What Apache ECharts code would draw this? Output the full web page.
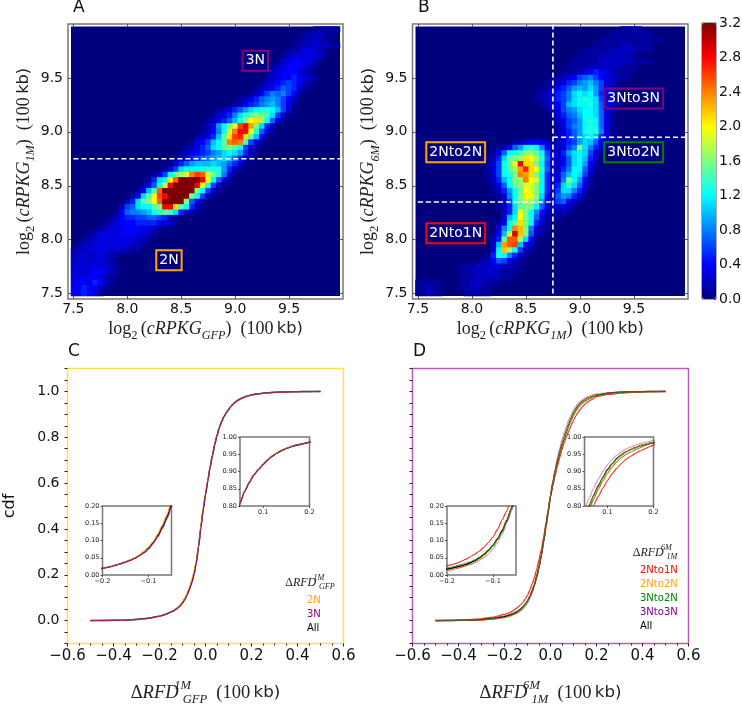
<!DOCTYPE html>
<html><head><meta charset="utf-8">
<style>html,body{margin:0;padding:0;background:#fff}#c{width:742px;height:704px}</style>
<script src="https://cdn.jsdelivr.net/npm/echarts@6/dist/echarts.min.js"></script>
</head><body><div id="c"></div>
<script>
// Heat cells: each row, top to bottom, is "firstColumn:values"; one base-36 digit per cell = density x 10.
const heatRowsA = [
"44:011111","42:0112211","41:0112221","40:0112232211","39:011233221",
"39:12333332","38:12344331","37:123444321","36:123444321","36:1234454321",
"35:1234565421","34:1234576531","33:1246878641","31:12357898642","30:1245689a8631",
"27:123579bcddca63","26:12358bdfggeb62","25:12357adgklhc731","24:1249cgjqsngb52","24:1248cjosskd731",
"23:1235aflqrlfa41","22:1346acfopoe631","21:12357bcfgfc621","20:12345689bcb9521","19:12356789aba8521",
"18:13579aaaba9752","17:136bcccdddd9521","15:136cghjoqpigd831","14:15bcjpwwwwskc731","13:147ciswwwwskd621",
"12:14aepwwwwwwgc621","11:14bfkqswwwwgc621","10:25bfgkpwwwwg731","09:267bccfgsslfc521","08:147889acefeb521",
"07:1245566776521","06:12344455554321","05:123334443321","03:1233334443321","02:1223333333221",
"01:1223333333221","00:1223333232211","00:223223221","00:23223321","00:233333321",
"00:332344321","00:33344321","00:34435421","00:4454421","00:445431"];
const heatRowsB = [
"38:1111","36:11111111","34:111111111111","33:11111221111","31:1111122222111",
"30:11112222221","29:111112222221111","28:1111222222111","27:1112345432111","25:112346786432211",
"24:11235689a86321","23:1124579a9b96321","22:1123568bcbc9532","22:1123568bcdcb6321","23:12346abccdb7421",
"24:123689bccb732","25:13578accb731","25:124679cdc731","26:23689cdc731","26:23579cdd831",
"26:23579bca531","18:1234432123569ba731","15:12479cdc8422368gb8521","14:137cdeghfc63259bcb631","13:125bfghlkhd73247bca52",
"13:136cfksllgc62247bc941","13:136cfhnrlkd72258cc731","13:126cdgonlgc5237acb62","13:125acghokjc5238gc941","14:137cfgjjgc525bdb731",
"14:1259cgkjgc526bb852","15:138cgkkgb42798531","16:26cgihf94267421","15:125bfggc7323321","16:25bkgc8421121",
"16:3ackgc73111","15:14cflgc521","15:38comg8311","14:14ajtmg721","14:25fpphb41",
"14:2anpqa42","14:3cmhc621","13:15dc8521","12:12476321","08:111222332211",
"08:11222322111","08:1112222211","00:1111000011222111","00:11211000112211","00:11211000011111"];

const heatTicks = [7.5, 8, 8.5, 9, 9.5];
const colorTicksMax = 3.2;
const jet = ['#00007f','#0000ff','#007fff','#00ffff','#7fff7f','#ffff00','#ff7f00','#ff0000','#7f0000'];

const boxNamesA = ['3N','2N'];
const boxXA = [9.187, 8.386];
const boxYA = [9.66, 7.81];
const boxColorsA = ['#800080','#ffa500'];
const boxNamesB = ['2Nto2N','2Nto1N','3Nto3N','3Nto2N'];
const boxXB = [7.85, 7.85, 9.497, 9.497];
const boxYB = [8.81, 8.06, 9.31, 8.81];
const boxColorsB = ['#ffa500','#ff0000','#800080','#008000'];
const dashA = [[[7.5,8.75],[10,8.75]]];
const dashB = [[[8.75,7.5],[8.75,10]],[[7.5,8.35],[8.75,8.35]],[[8.75,8.95],[10,8.95]]];

// CDF curves
const cdfX = [-0.5,-0.45,-0.4,-0.35,-0.3,-0.25,
-0.2,-0.19,-0.18,-0.17,-0.16,-0.15,-0.14,-0.13,-0.12,-0.11,
-0.1,-0.09,-0.08,-0.07,-0.06,-0.05,-0.04,-0.03,-0.02,-0.01,
0,0.01,0.02,0.03,0.04,0.05,0.06,0.07,0.08,0.09,
0.1,0.11,0.12,0.13,0.14,0.15,0.16,0.17,0.18,0.19,0.2,
0.25,0.3,0.35,0.4,0.45,0.5];
const cAll = [0,.0005,.001,.002,.005,.01,
.019,.022,.025,.029,.033,.038,.043,.049,.057,.066,
.078,.094,.114,.139,.168,.205,.255,.325,.41,.485,
.55,.61,.67,.72,.768,.808,.842,.868,.89,.906,
.921,.934,.945,.954,.961,.967,.972,.976,.979,.982,.985,
.992,.996,.998,.999,.9995,1];
const c2N = [0,.0005,.001,.002,.005,.01,
.019,.022,.025,.029,.033,.038,.044,.050,.058,.068,
.081,.097,.118,.145,.175,.215,.262,.33,.415,.49,
.552,.612,.671,.721,.769,.808,.842,.868,.89,.906,
.921,.934,.945,.954,.961,.967,.972,.976,.979,.982,.984,
.992,.996,.998,.999,.9995,1];
const c3N = [0,.0005,.001,.002,.005,.01,
.019,.022,.025,.029,.033,.037,.042,.048,.055,.064,
.075,.091,.11,.134,.162,.197,.25,.32,.405,.48,
.548,.608,.668,.719,.767,.808,.842,.868,.89,.906,
.92,.933,.944,.953,.96,.966,.971,.975,.978,.981,.985,
.992,.996,.998,.999,.9995,1];
const dAll = [0,.0005,.001,.002,.004,.009,
.017,.02,.023,.026,.03,.035,.041,.049,.059,.071,
.086,.105,.129,.158,.193,.235,.285,.345,.41,.475,
.545,.6,.65,.695,.735,.77,.8,.83,.858,.883,
.905,.922,.937,.948,.957,.963,.969,.974,.978,.981,.984,
.992,.996,.998,.999,.9995,1];
const d2Nto1N = [0,.001,.002,.004,.008,.015,
.027,.03,.034,.039,.045,.052,.06,.069,.08,.094,
.11,.133,.16,.186,.225,.265,.31,.365,.425,.485,
.54,.588,.632,.673,.712,.746,.776,.803,.828,.852,
.874,.893,.909,.923,.935,.944,.952,.959,.965,.971,.977,
.987,.992,.996,.998,.999,1];
const d2Nto2N = [0,.0004,.0008,.0015,.003,.006,
.012,.015,.018,.022,.026,.031,.037,.045,.055,.068,
.083,.102,.125,.155,.19,.232,.285,.345,.41,.48,
.545,.6,.65,.695,.733,.767,.798,.828,.855,.88,
.902,.92,.935,.947,.956,.963,.969,.974,.979,.982,.985,
.992,.996,.998,.999,.9995,1];
const d3Nto2N = [0,.0006,.001,.002,.005,.01,
.02,.023,.026,.03,.034,.038,.044,.051,.06,.072,
.085,.104,.125,.155,.19,.232,.285,.345,.41,.475,
.54,.593,.642,.686,.725,.76,.79,.82,.848,.873,
.895,.912,.928,.94,.949,.956,.962,.968,.974,.979,.983,
.991,.996,.998,.999,.9995,1];
const d3Nto3N = [0,.0003,.0006,.001,.003,.006,
.014,.016,.019,.022,.026,.03,.035,.042,.05,.061,
.075,.095,.118,.15,.185,.225,.28,.34,.405,.475,
.545,.605,.66,.71,.752,.79,.822,.852,.878,.9,
.92,.935,.947,.957,.965,.971,.976,.98,.984,.987,.989,
.994,.997,.999,.9995,.9998,1];

const cSeries = [['All',cAll,'#000000',1],['2N',c2N,'#ffa500',0.9],['3N',c3N,'#800080',0.75]];
const dSeries = [['All',dAll,'#000000',1],['2Nto1N',d2Nto1N,'#ff0000',0.85],['2Nto2N',d2Nto2N,'#ffa500',0.85],['3Nto2N',d3Nto2N,'#008000',0.7],['3Nto3N',d3Nto3N,'#800080',0.4]];
const cdfMajorTicks = [0,0.2,0.4,0.6,0.8,1];
const cdfMinorTicks = [-0.1,-0.05,0,0.05,0.1,0.15,0.2,0.25,0.3,0.35,0.4,0.45,0.5,0.55,0.6,0.65,0.7,0.75,0.8,0.85,0.9,0.95,1,1.05,1.1];

function decode(rows){
  const out=[];
  rows.forEach((row,r)=>{
    const [s,v]=row.split(':'); const start=+s;
    for(let i=0;i<v.length;i++){ const d=parseInt(v[i],36); if(d>0) out.push([start+i,r,d/10]); }
  });
  return out;
}
const idx=[...Array(50).keys()];
const SERIF='"Liberation Serif","DejaVu Serif",serif', SANS='"DejaVu Sans",sans-serif';
function rich(s){
  const lh=Math.round(s*1.45), fw='normal', c='#222';
  return {
    m:{fontFamily:SERIF,fontSize:s,lineHeight:lh,color:c,fontWeight:fw},
    i:{fontFamily:SERIF,fontStyle:'italic',fontSize:s,lineHeight:lh,color:c,fontWeight:fw},
    k:{fontFamily:SANS,fontSize:s*0.9,lineHeight:lh,color:c,fontWeight:fw},
    gap:{width:s*0.22,lineHeight:lh,fontSize:s*0.3},
    s0:{fontFamily:SERIF,fontSize:s*0.7,lineHeight:s*0.85,verticalAlign:'bottom',color:c,fontWeight:fw},
    si:{fontFamily:SERIF,fontStyle:'italic',fontSize:s*0.68,lineHeight:s*0.85,verticalAlign:'bottom',color:c,fontWeight:fw},
    up:{fontFamily:SERIF,fontStyle:'italic',fontSize:s*0.68,lineHeight:s*0.85,verticalAlign:'top',align:'left',width:0.01,color:c,fontWeight:fw}
  };
}
const xNameA='{m|log}{s0|2} {m|(}{i|cRPKG}{si|GFP}{m|)  (100} {k|kb)}';
const yNameA='{m|log}{s0|2} {m|(}{i|cRPKG}{si|1M}{m|)  (100} {k|kb)}';
const xNameB='{m|log}{s0|2} {m|(}{i|cRPKG}{si|1M}{m|)  (100} {k|kb)}';
const yNameB='{m|log}{s0|2} {m|(}{i|cRPKG}{si|6M}{m|)  (100} {k|kb)}';
const xNameC='{m|Δ}{i|RFD}{gap| }{up|1M}{si|GFP}{m|  (100} {k|kb)}';
const xNameD='{m|Δ}{i|RFD}{gap| }{up|6M}{si|1M}{m|  (100} {k|kb)}';

const grid=[],xAxis=[],yAxis=[],series=[];
const minus=v=>String(v).replace('-','\u2212');
function addGrid(l,t,w,h,opt){ grid.push(Object.assign({left:l,top:t,width:w,height:h,show:false,containLabel:false,outerBoundsMode:'none'},opt||{})); return grid.length-1; }

function heatPanel(frame,inner,rows,xName,yName,boxN,boxX,boxY,boxC,dashes){
  const hg=addGrid(inner[0],inner[1],inner[2],inner[3],{show:true,backgroundColor:'#00007f',borderWidth:0});
  xAxis.push({gridIndex:hg,type:'category',data:idx,show:false});
  const hx=xAxis.length-1;
  yAxis.push({gridIndex:hg,type:'category',data:idx,inverse:true,show:false});
  const hy=yAxis.length-1;
  series.push({type:'heatmap',xAxisIndex:hx,yAxisIndex:hy,data:decode(rows),silent:true,progressive:0,animation:false});
  const g=addGrid(frame[0],frame[1],frame[2],frame[3],{show:true,borderColor:'#777',borderWidth:1.5,backgroundColor:'transparent'});
  const common={gridIndex:g,type:'value',min:7.45,max:10,splitLine:{show:false}};
  const tk={inside:true,length:3,customValues:heatTicks,lineStyle:{color:'#555',width:1}};
  const line={show:false,onZero:false};
  xAxis.push(Object.assign({},common,{position:'bottom',axisLine:line,axisTick:tk,
    name:xName,nameLocation:'middle',nameGap:17,nameTextStyle:{rich:rich(18)},
    axisLabel:{customValues:heatTicks,color:'#111',fontFamily:SANS,fontSize:14,margin:3,formatter:v=>v.toFixed(1)}}));
  const vx=xAxis.length-1;
  xAxis.push(Object.assign({},common,{position:'top',axisLine:line,axisTick:tk,axisLabel:{show:false}}));
  yAxis.push(Object.assign({},common,{position:'left',axisLine:line,axisTick:tk,
    name:yName,nameLocation:'middle',nameGap:19,nameRotate:90,nameTextStyle:{rich:rich(18)},
    axisLabel:{customValues:heatTicks,color:'#111',fontFamily:SANS,fontSize:14,margin:5,formatter:v=>v.toFixed(1)}}));
  const vy=yAxis.length-1;
  yAxis.push(Object.assign({},common,{position:'right',axisLine:line,axisTick:tk,axisLabel:{show:false}}));
  dashes.forEach(d=>series.push({type:'line',xAxisIndex:vx,yAxisIndex:vy,data:d,showSymbol:false,silent:true,z:5,animation:false,
    lineStyle:{color:'#fff',width:1.6,type:[5,3]}}));
  series.push({type:'scatter',xAxisIndex:vx,yAxisIndex:vy,symbolSize:1,itemStyle:{color:'rgba(0,0,0,0)',opacity:1},silent:true,z:6,animation:false,
    data:boxN.map((n,i)=>({value:[boxX[i],boxY[i]],name:n,label:{borderColor:boxC[i]}})),
    label:{show:true,position:'inside',formatter:p=>p.name,color:'#fff',fontFamily:SANS,fontSize:14,borderWidth:2,padding:[2,3,3,3],lineHeight:15}});
}

function cdfPanel(frame,frameColor,curves,xName,showY,upper,lower){
  const g=addGrid(frame[0],frame[1],frame[2],frame[3],{show:true,borderColor:frameColor,borderWidth:1.5});
  const line={show:false,onZero:false};
  xAxis.push({gridIndex:g,type:'value',min:-0.6,max:0.6,interval:0.2,splitLine:{show:false},
    axisLine:line,axisTick:{length:3,lineStyle:{color:'#222',width:1}},
    minorTick:{show:true,splitNumber:4,length:2,lineStyle:{color:'#222',width:1}},
    axisLabel:{color:'#111',fontFamily:SANS,fontSize:15,margin:5,formatter:v=>minus(v.toFixed(1)),showMinLabel:true,showMaxLabel:true},
    name:xName,nameLocation:'middle',nameGap:36,nameTextStyle:{rich:rich(18.5)}});
  const mx=xAxis.length-1;
  yAxis.push({gridIndex:g,type:'value',min:-0.1,max:1.1,splitLine:{show:false},
    axisLine:line,axisTick:{length:3,customValues:cdfMinorTicks,lineStyle:{color:'#222',width:1}},
    axisLabel:{show:showY,customValues:cdfMajorTicks,color:'#111',fontFamily:SANS,fontSize:14,margin:8,formatter:v=>v.toFixed(1)},
    name:showY?'cdf':'',nameLocation:'middle',nameGap:50,nameRotate:90,nameTextStyle:{color:'#111',fontFamily:SANS,fontSize:16}});
  const my=yAxis.length-1;
  const draw=(xi,yi,w)=>curves.forEach(c=>series.push({type:'line',name:c[0],xAxisIndex:xi,yAxisIndex:yi,
    data:cdfX.map((x,i)=>[x,c[1][i]]),showSymbol:false,smooth:0.2,smoothMonotone:'x',silent:true,animation:false,
    lineStyle:{color:c[2],width:c[0]==='All'?w+0.3:w,opacity:c[3]},itemStyle:{color:c[2]}}));
  draw(mx,my,1.2);
  [upper,lower].forEach(ins=>{
    const ig=addGrid(ins.box[0],ins.box[1],ins.box[2],ins.box[3],{show:true,borderColor:'#777',borderWidth:1.5,backgroundColor:'#fff'});
    xAxis.push({gridIndex:ig,type:'value',min:ins.x[0],max:ins.x[1],splitLine:{show:false},axisLine:line,
      axisTick:{length:2,customValues:ins.xt,lineStyle:{color:'#333',width:0.8}},
      axisLabel:{customValues:ins.xt,color:'#222',fontFamily:SANS,fontSize:6.5,margin:3,formatter:v=>minus(v.toFixed(1)),showMinLabel:true,showMaxLabel:true}});
    yAxis.push({gridIndex:ig,type:'value',min:ins.y[0],max:ins.y[1],splitLine:{show:false},axisLine:line,
      axisTick:{length:2,customValues:ins.yt,lineStyle:{color:'#333',width:0.8}},
      axisLabel:{customValues:ins.yt,color:'#222',fontFamily:SANS,fontSize:6.5,margin:3,formatter:v=>v.toFixed(2),showMinLabel:true,showMaxLabel:true}});
    draw(xAxis.length-1,yAxis.length-1,1.1);
  });
}

heatPanel([68,24,275,275],[71,26.5,269,269.5],heatRowsA,xNameA,yNameA,boxNamesA,boxXA,boxYA,boxColorsA,dashA);
heatPanel([412.5,24,275.5,275],[415.5,26.5,269.5,269.5],heatRowsB,xNameB,yNameB,boxNamesB,boxXB,boxYB,boxColorsB,dashB);

const cb=addGrid(702,23,14,276,{show:true,borderColor:'#555',borderWidth:1,backgroundColor:'transparent'});
xAxis.push({gridIndex:cb,type:'value',min:0,max:1,show:false});
yAxis.push({gridIndex:cb,type:'value',position:'right',min:0,max:colorTicksMax,interval:0.4,splitLine:{show:false},axisLine:{show:false,onZero:false},
  axisTick:{inside:true,length:2,lineStyle:{color:'#333'}},
  axisLabel:{color:'#111',fontFamily:SANS,fontSize:14,margin:3,formatter:v=>v.toFixed(1),showMinLabel:true,showMaxLabel:true}});

const upperX=[0.05,0.2], lowerX=[-0.2,-0.05];
const upperXT=[0.1,0.2], lowerXT=[-0.2,-0.1];
const upperY=[0.8,1], lowerY=[0,0.2];
const upperYT=[0.8,0.85,0.9,0.95,1], lowerYT=[0,0.05,0.1,0.15,0.2];
cdfPanel([67.5,368.5,276,275],'#ffdd55',cSeries,xNameC,true,
  {box:[240,437,69.5,69],x:upperX,y:upperY,xt:upperXT,yt:upperYT},
  {box:[102.5,506,69,69],x:lowerX,y:lowerY,xt:lowerXT,yt:lowerYT});
cdfPanel([412.5,368.5,276,275],'#b35fb8',dSeries,xNameD,false,
  {box:[584.5,437,69,69],x:upperX,y:upperY,xt:upperXT,yt:upperYT},
  {box:[447,506,69,69],x:lowerX,y:lowerY,xt:lowerXT,yt:lowerYT});

const letter=(t,l,tp)=>({text:t,left:l,top:tp,padding:0,textStyle:{color:'#111',fontFamily:SANS,fontSize:17,fontWeight:'normal'}});
const legendHead=(t,l,tp)=>({text:t,left:l,top:tp,padding:0,textAlign:'center',textStyle:{fontWeight:'normal',rich:rich(12)}});
const legendItem=(n,c)=>({name:n,textStyle:{color:c}});
const option={
  animation:false,
  title:[letter('A',73,-1),letter('B',418,-1),letter('C',68,343),letter('D',413,343),
    legendHead('{m|Δ}{i|RFD}{gap| }{up|1M}{si|GFP}',310,574),legendHead('{m|Δ}{i|RFD}{gap| }{up|6M}{si|1M}',655,544)],
  grid,xAxis,yAxis,series,
  legend:[
    {left:302,top:594,orient:'vertical',icon:'none',itemWidth:0,itemHeight:12,itemGap:3.2,padding:0,selectedMode:false,
     textStyle:{fontFamily:SANS,fontSize:10},data:[legendItem('2N','#ffa500'),legendItem('3N','#800080'),legendItem('All','#000')]},
    {left:635,top:564,orient:'vertical',icon:'none',itemWidth:0,itemHeight:12,itemGap:3.2,padding:0,selectedMode:false,
     textStyle:{fontFamily:SANS,fontSize:10},data:[legendItem('2Nto1N','#ff0000'),legendItem('2Nto2N','#ffa500'),legendItem('3Nto2N','#008000'),legendItem('3Nto3N','#800080'),legendItem('All','#000')]}
  ],
  visualMap:{type:'continuous',min:0,max:colorTicksMax,seriesIndex:[0,series.findIndex((s,i)=>i>0&&s.type==='heatmap')],
    inRange:{color:jet},left:702,top:23,itemWidth:14,itemHeight:276,padding:0,calculable:false,text:null,showLabel:false,realtime:false,hoverLink:false}
};
const chart=echarts.init(document.getElementById('c'),null,{renderer:'canvas'});
chart.setOption(option);
</script></body></html>
